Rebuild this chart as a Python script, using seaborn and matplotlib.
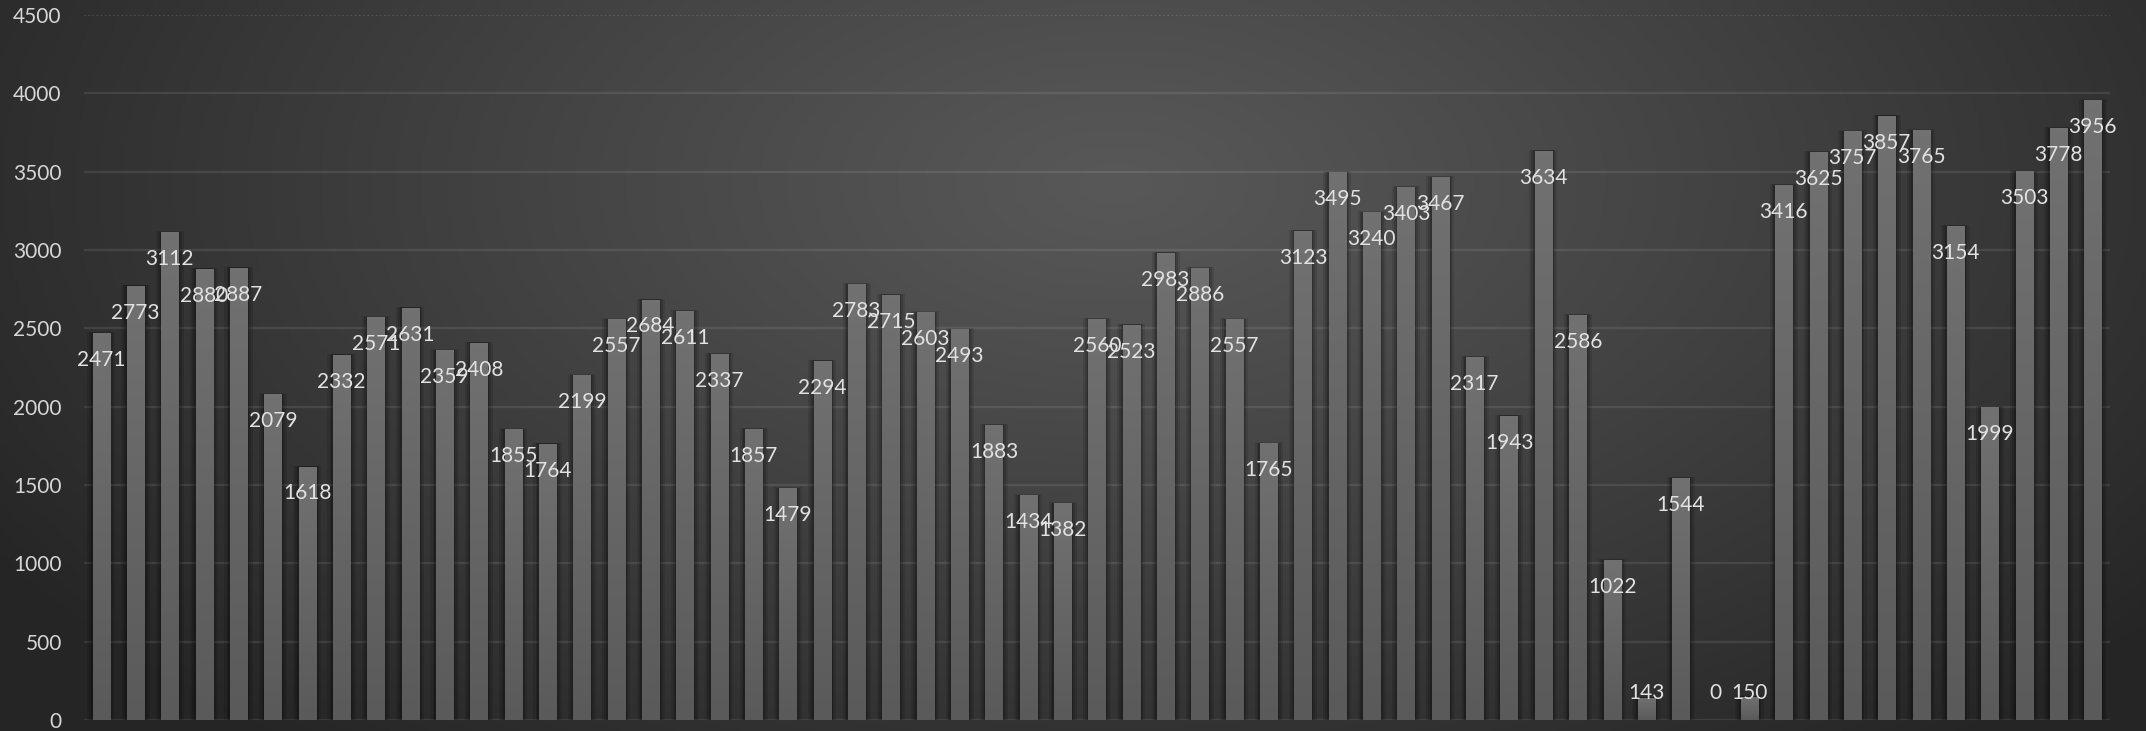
import numpy as np
import pandas as pd
import matplotlib
matplotlib.use("Agg")
import matplotlib.pyplot as plt
import seaborn as sns

values = [2471, 2773, 3112, 2880, 2887, 2079, 1618, 2332, 2571, 2631,
          2359, 2408, 1855, 1764, 2199, 2557, 2684, 2611, 2337, 1857,
          1479, 2294, 2783, 2715, 2603, 2493, 1883, 1434, 1382, 2560,
          2523, 2983, 2886, 2557, 1765, 3123, 3495, 3240, 3403, 3467,
          2317, 1943, 3634, 2586, 1022, 143, 1544, 0, 150, 3416,
          3625, 3757, 3857, 3765, 3154, 1999, 3503, 3778, 3956]
categories = [str(i + 1) for i in range(len(values))]
yticks = [0, 500, 1000, 1500, 2000, 2500, 3000, 3500, 4000, 4500]

sns.set_theme(style="white")
plt.rcParams['font.family'] = ['Lato', 'DejaVu Sans']

W, H, DPI = 2146, 731, 100
fig = plt.figure(figsize=(W / DPI, H / DPI), dpi=DPI)

# radial gradient background
bg = fig.add_axes([0, 0, 1, 1], zorder=0)
xx, yy = np.meshgrid(np.linspace(0, 1, 600), np.linspace(0, 1, 220))
r = np.sqrt(((xx - 0.52) / 0.62) ** 2 + ((yy - 0.25) / 1.0) ** 2)
r = np.clip(r, 0, 1)
c_in, c_out = 0x58 / 255, 0x25 / 255
g = c_in - (c_in - c_out) * r ** 1.1
img = np.dstack([g, g, g])
bg.imshow(img, extent=[0, 1, 0, 1], aspect='auto', origin='upper')
bg.set_axis_off()

ax = fig.add_axes([84 / W, 1 - 720 / H, (2110 - 84) / W, (720 - 15) / H], zorder=1)
ax.patch.set_alpha(0)

df = pd.DataFrame({"cat": categories, "val": values})
sns.barplot(data=df, x="cat", y="val", color="#666666", width=0.5,
            saturation=1, ax=ax, zorder=3, edgecolor="none")

ax.set_xlim(-0.5, len(values) - 0.5)
ax.set_ylim(0, 4500)

# gradient fill for bars + soft shadow
grad = np.linspace(0, 1, 100).reshape(-1, 1)
top_c, bot_c = np.array([0x71] * 3) / 255, np.array([0x5a] * 3) / 255
bar_img = (top_c[None, None, :] * (1 - grad[:, :, None]) + bot_c[None, None, :] * grad[:, :, None])
for p in list(ax.patches):
    x0, w, h = p.get_x(), p.get_width(), p.get_height()
    if h <= 0:
        continue
    for k, a in [(0.16, 0.10), (0.10, 0.14), (0.05, 0.18)]:
        ax.add_patch(plt.Rectangle((x0 - k, 0), w + 2 * k, h + k * 40, color="black",
                                   alpha=a, lw=0, zorder=2))
    im = ax.imshow(bar_img, extent=[x0, x0 + w, 0, h], aspect='auto', zorder=3.5,
                   origin='upper')
    im.set_clip_path(p)

ax.set_xlim(-0.5, len(values) - 0.5)
ax.set_ylim(0, 4500)

# gridlines
for t in yticks[:-1]:
    ax.axhline(t, color="white", alpha=0.09, lw=1.6, zorder=1)
ax.axhline(4500, color="white", alpha=0.15, lw=1.2, ls=(0, (1, 1.5)), zorder=1)

# data labels
off = 172
for i, v in enumerate(values):
    y = max(v - off, off)
    ax.text(i, y, str(v), ha="center", va="center", color="#e2e2e2",
            fontsize=15, zorder=5)

ax.set_yticks(yticks)
ax.set_yticklabels([str(t) for t in yticks])
ax.tick_params(axis='y', colors="#d6d6d6", labelsize=15, length=0, pad=16)
ax.set_xticks([])
ax.set_xlabel("")
ax.set_ylabel("")
for s in ax.spines.values():
    s.set_visible(False)

fig.savefig("out.png", dpi=DPI)
